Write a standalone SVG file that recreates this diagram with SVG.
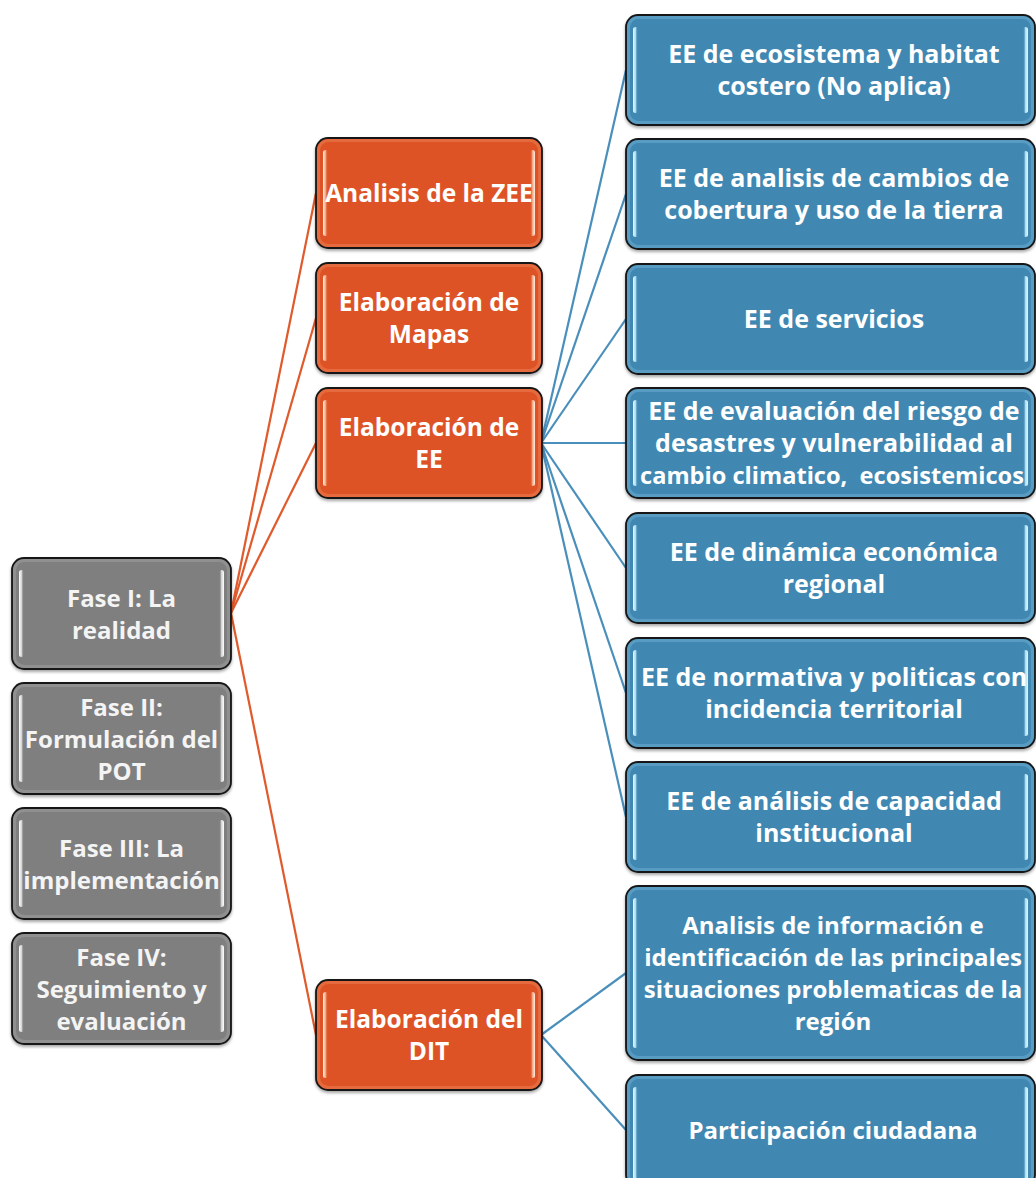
<svg xmlns="http://www.w3.org/2000/svg" width="1036" height="1178" viewBox="0 0 1036 1178">
<defs>
<linearGradient id="hlL-blue" x1="0" y1="0" x2="1" y2="0"><stop offset="0" stop-color="#e4f7ff"/><stop offset="0.5" stop-color="#a9def3"/><stop offset="1" stop-color="#4a8fb8" stop-opacity="0"/></linearGradient>
<linearGradient id="hlR-blue" x1="1" y1="0" x2="0" y2="0"><stop offset="0" stop-color="#e4f7ff"/><stop offset="0.5" stop-color="#a9def3"/><stop offset="1" stop-color="#4a8fb8" stop-opacity="0"/></linearGradient>
<linearGradient id="hlL-orange" x1="0" y1="0" x2="1" y2="0"><stop offset="0" stop-color="#fff0e6"/><stop offset="0.5" stop-color="#f6a985"/><stop offset="1" stop-color="#e0582a" stop-opacity="0"/></linearGradient>
<linearGradient id="hlR-orange" x1="1" y1="0" x2="0" y2="0"><stop offset="0" stop-color="#fff0e6"/><stop offset="0.5" stop-color="#f6a985"/><stop offset="1" stop-color="#e0582a" stop-opacity="0"/></linearGradient>
<linearGradient id="hlL-gray" x1="0" y1="0" x2="1" y2="0"><stop offset="0" stop-color="#ffffff"/><stop offset="0.5" stop-color="#d6d6d6"/><stop offset="1" stop-color="#808080" stop-opacity="0"/></linearGradient>
<linearGradient id="hlR-gray" x1="1" y1="0" x2="0" y2="0"><stop offset="0" stop-color="#ffffff"/><stop offset="0.5" stop-color="#d6d6d6"/><stop offset="1" stop-color="#808080" stop-opacity="0"/></linearGradient>
<filter id="shadow" x="-5%" y="-5%" width="110%" height="115%"><feDropShadow dx="0" dy="2" stdDeviation="1.5" flood-color="#000" flood-opacity="0.35"/></filter>
</defs>
<style>
.box{stroke:#151515;stroke-width:1.8;filter:url(#shadow)}
.gray .box{fill:#7f7f7f}
.orange .box{fill:#dd5326}
.blue .box{fill:#4088b2}
.rim{fill:none;stroke-width:3;stroke-opacity:0.45}
.gray .rim{stroke:#a6a6a6}
.orange .rim{stroke:#f08a60}
.blue .rim{stroke:#75b6d8}
text{font-family:"Open Sans","Liberation Sans",sans-serif;font-weight:bold;font-size:24px;text-anchor:middle;fill:#ffffff}
.gray text{fill:#f4f4f4}
.orange text{font-size:24.5px}
.blue text{font-size:25px}
.blue.small text{font-size:24px}
.blue text.tight{font-size:23.6px}
.conn line{stroke-width:2.2;fill:none}
.conn .o{stroke:#e05a2b}
.conn .b{stroke:#4a8fbb}
</style>

<g id="connectors" class="conn">
<line class="o" x1="231" y1="613" x2="316" y2="193"/>
<line class="o" x1="231" y1="613" x2="316" y2="318"/>
<line class="o" x1="231" y1="613" x2="316" y2="443"/>
<line class="o" x1="231" y1="613" x2="316" y2="1035"/>
<line class="b" x1="541" y1="443" x2="626" y2="70"/>
<line class="b" x1="541" y1="443" x2="626" y2="194"/>
<line class="b" x1="541" y1="443" x2="626" y2="319"/>
<line class="b" x1="541" y1="443" x2="626" y2="443"/>
<line class="b" x1="541" y1="443" x2="626" y2="568"/>
<line class="b" x1="541" y1="443" x2="626" y2="693"/>
<line class="b" x1="541" y1="443" x2="626" y2="817"/>
<line class="b" x1="541" y1="1035" x2="626" y2="973"/>
<line class="b" x1="541" y1="1035" x2="626" y2="1130"/>
</g>

<!-- Gray phase nodes -->
<g id="fase1" class="node gray">
<rect class="box" x="12" y="558" width="219" height="111" rx="12"/>
<rect class="rim" x="14.5" y="560.5" width="214" height="106" rx="10"/>
<rect x="19" y="570" width="5" height="87" rx="2.5" fill="url(#hlL-gray)"/>
<rect x="219" y="570" width="5" height="87" rx="2.5" fill="url(#hlR-gray)"/>
<text x="121.5" y="607">Fase I: La</text>
<text x="121.5" y="639">realidad</text>
</g>
<g id="fase2" class="node gray">
<rect class="box" x="12" y="683" width="219" height="111" rx="12"/>
<rect class="rim" x="14.5" y="685.5" width="214" height="106" rx="10"/>
<rect x="19" y="695" width="5" height="87" rx="2.5" fill="url(#hlL-gray)"/>
<rect x="219" y="695" width="5" height="87" rx="2.5" fill="url(#hlR-gray)"/>
<text x="121.5" y="716">Fase II:</text>
<text x="121.5" y="748">Formulación del</text>
<text x="121.5" y="780">POT</text>
</g>
<g id="fase3" class="node gray">
<rect class="box" x="12" y="808" width="219" height="111" rx="12"/>
<rect class="rim" x="14.5" y="810.5" width="214" height="106" rx="10"/>
<rect x="19" y="820" width="5" height="87" rx="2.5" fill="url(#hlL-gray)"/>
<rect x="219" y="820" width="5" height="87" rx="2.5" fill="url(#hlR-gray)"/>
<text x="121.5" y="857">Fase III: La</text>
<text x="121.5" y="889">implementación</text>
</g>
<g id="fase4" class="node gray">
<rect class="box" x="12" y="933" width="219" height="111" rx="12"/>
<rect class="rim" x="14.5" y="935.5" width="214" height="106" rx="10"/>
<rect x="19" y="945" width="5" height="87" rx="2.5" fill="url(#hlL-gray)"/>
<rect x="219" y="945" width="5" height="87" rx="2.5" fill="url(#hlR-gray)"/>
<text x="121.5" y="966">Fase IV:</text>
<text x="121.5" y="998">Seguimiento y</text>
<text x="121.5" y="1030">evaluación</text>
</g>

<!-- Orange nodes -->
<g id="zee" class="node orange">
<rect class="box" x="316" y="138" width="226" height="110" rx="12"/>
<rect class="rim" x="318.5" y="140.5" width="221" height="105" rx="10"/>
<rect x="323" y="150" width="5" height="86" rx="2.5" fill="url(#hlL-orange)"/>
<rect x="530" y="150" width="5" height="86" rx="2.5" fill="url(#hlR-orange)"/>
<text x="429" y="202">Analisis de la ZEE</text>
</g>
<g id="mapas" class="node orange">
<rect class="box" x="316" y="263" width="226" height="110" rx="12"/>
<rect class="rim" x="318.5" y="265.5" width="221" height="105" rx="10"/>
<rect x="323" y="275" width="5" height="86" rx="2.5" fill="url(#hlL-orange)"/>
<rect x="530" y="275" width="5" height="86" rx="2.5" fill="url(#hlR-orange)"/>
<text x="429" y="311">Elaboración de</text>
<text x="429" y="343">Mapas</text>
</g>
<g id="ee" class="node orange">
<rect class="box" x="316" y="388" width="226" height="110" rx="12"/>
<rect class="rim" x="318.5" y="390.5" width="221" height="105" rx="10"/>
<rect x="323" y="400" width="5" height="86" rx="2.5" fill="url(#hlL-orange)"/>
<rect x="530" y="400" width="5" height="86" rx="2.5" fill="url(#hlR-orange)"/>
<text x="429" y="436">Elaboración de</text>
<text x="429" y="468">EE</text>
</g>
<g id="dit" class="node orange">
<rect class="box" x="316" y="980" width="226" height="110" rx="12"/>
<rect class="rim" x="318.5" y="982.5" width="221" height="105" rx="10"/>
<rect x="323" y="992" width="5" height="86" rx="2.5" fill="url(#hlL-orange)"/>
<rect x="530" y="992" width="5" height="86" rx="2.5" fill="url(#hlR-orange)"/>
<text x="429" y="1028">Elaboración del</text>
<text x="429" y="1060">DIT</text>
</g>

<!-- Blue nodes -->
<g id="ee1" class="node blue">
<rect class="box" x="626" y="15" width="409" height="110" rx="12"/>
<rect class="rim" x="628.5" y="17.5" width="404" height="105" rx="10"/>
<rect x="633" y="27" width="5" height="86" rx="2.5" fill="url(#hlL-blue)"/>
<rect x="1023" y="27" width="5" height="86" rx="2.5" fill="url(#hlR-blue)"/>
<text x="834" y="63">EE de ecosistema y habitat</text>
<text x="834" y="95">costero (No aplica)</text>
</g>
<g id="ee2" class="node blue">
<rect class="box" x="626" y="139" width="409" height="110" rx="12"/>
<rect class="rim" x="628.5" y="141.5" width="404" height="105" rx="10"/>
<rect x="633" y="151" width="5" height="86" rx="2.5" fill="url(#hlL-blue)"/>
<rect x="1023" y="151" width="5" height="86" rx="2.5" fill="url(#hlR-blue)"/>
<text x="834" y="187">EE de analisis de cambios de</text>
<text x="834" y="219">cobertura y uso de la tierra</text>
</g>
<g id="ee3" class="node blue">
<rect class="box" x="626" y="264" width="409" height="110" rx="12"/>
<rect class="rim" x="628.5" y="266.5" width="404" height="105" rx="10"/>
<rect x="633" y="276" width="5" height="86" rx="2.5" fill="url(#hlL-blue)"/>
<rect x="1023" y="276" width="5" height="86" rx="2.5" fill="url(#hlR-blue)"/>
<text x="834" y="328">EE de servicios</text>
</g>
<g id="ee4" class="node blue">
<rect class="box" x="626" y="388" width="409" height="110" rx="12"/>
<rect class="rim" x="628.5" y="390.5" width="404" height="105" rx="10"/>
<rect x="633" y="400" width="5" height="86" rx="2.5" fill="url(#hlL-blue)"/>
<rect x="1023" y="400" width="5" height="86" rx="2.5" fill="url(#hlR-blue)"/>
<text x="834" y="420">EE de evaluación del riesgo de</text>
<text x="834" y="452">desastres y vulnerabilidad al</text>
<text class="tight" x="832" y="484" xml:space="preserve">cambio climatico,  ecosistemicos</text>
</g>
<g id="ee5" class="node blue">
<rect class="box" x="626" y="513" width="409" height="110" rx="12"/>
<rect class="rim" x="628.5" y="515.5" width="404" height="105" rx="10"/>
<rect x="633" y="525" width="5" height="86" rx="2.5" fill="url(#hlL-blue)"/>
<rect x="1023" y="525" width="5" height="86" rx="2.5" fill="url(#hlR-blue)"/>
<text x="834" y="561">EE de dinámica económica</text>
<text x="834" y="593">regional</text>
</g>
<g id="ee6" class="node blue">
<rect class="box" x="626" y="638" width="409" height="110" rx="12"/>
<rect class="rim" x="628.5" y="640.5" width="404" height="105" rx="10"/>
<rect x="633" y="650" width="5" height="86" rx="2.5" fill="url(#hlL-blue)"/>
<rect x="1023" y="650" width="5" height="86" rx="2.5" fill="url(#hlR-blue)"/>
<text x="834" y="686">EE de normativa y politicas con</text>
<text x="834" y="718">incidencia territorial</text>
</g>
<g id="ee7" class="node blue">
<rect class="box" x="626" y="762" width="409" height="110" rx="12"/>
<rect class="rim" x="628.5" y="764.5" width="404" height="105" rx="10"/>
<rect x="633" y="774" width="5" height="86" rx="2.5" fill="url(#hlL-blue)"/>
<rect x="1023" y="774" width="5" height="86" rx="2.5" fill="url(#hlR-blue)"/>
<text x="834" y="810">EE de análisis de capacidad</text>
<text x="834" y="842">institucional</text>
</g>
<g id="dit1" class="node blue small">
<rect class="box" x="626" y="886" width="409" height="174" rx="12"/>
<rect class="rim" x="628.5" y="888.5" width="404" height="169" rx="10"/>
<rect x="633" y="898" width="5" height="150" rx="2.5" fill="url(#hlL-blue)"/>
<rect x="1023" y="898" width="5" height="150" rx="2.5" fill="url(#hlR-blue)"/>
<text x="833" y="934">Analisis de información e</text>
<text x="833" y="966">identificación de las principales</text>
<text x="833" y="998">situaciones problematicas de la</text>
<text x="833" y="1030">región</text>
</g>
<g id="dit2" class="node blue small">
<rect class="box" x="626" y="1075" width="409" height="112" rx="12"/>
<rect class="rim" x="628.5" y="1077.5" width="404" height="107" rx="10"/>
<rect x="633" y="1087" width="5" height="95" rx="2.5" fill="url(#hlL-blue)"/>
<rect x="1023" y="1087" width="5" height="95" rx="2.5" fill="url(#hlR-blue)"/>
<text x="833" y="1139">Participación ciudadana</text>
</g>
</svg>
